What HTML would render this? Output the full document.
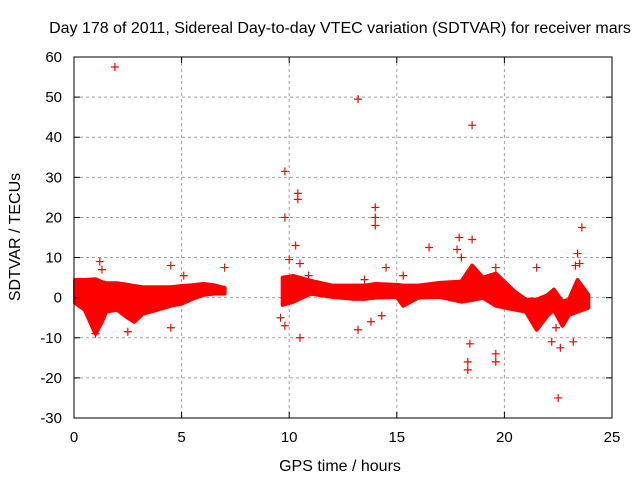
<!DOCTYPE html>
<html><head><meta charset="utf-8"><style>
body{margin:0;background:#fff}
svg text{font-family:"Liberation Sans",sans-serif;font-size:15px;fill:#000}
svg text.big{font-size:16px}
</style></head><body>
<svg id="c" width="640" height="480" xmlns="http://www.w3.org/2000/svg">
<text class="big" x="340" y="33" text-anchor="middle">Day 178 of 2011, Sidereal Day-to-day VTEC variation (SDTVAR) for receiver mars</text>
<text class="big" x="340" y="471" text-anchor="middle">GPS time / hours</text>
<text class="big" transform="translate(20,237) rotate(-90)" text-anchor="middle">SDTVAR / TECUs</text>
<g id="grid"></g><g id="data"></g><g id="axes"></g>
</svg>
<script>
const xTicks=[0,5,10,15,20,25];
const yTicks=[-30,-20,-10,0,10,20,30,40,50,60];
// band 1 envelope: hour, upper, lower
const band1X=[0.05,0.5,1.0,1.3,1.5,2.0,2.5,2.8,3.2,4.0,4.5,5.0,5.5,6.0,6.5,7.0];
const band1Hi=[4.4,4.4,4.6,3.9,3.6,3.6,3.2,2.9,2.6,2.6,2.6,2.9,3.1,3.4,3.1,2.4];
const band1Lo=[-1.3,-3,-9,-6,-3.5,-3,-5,-6,-4,-2.8,-2,-1.5,-0.3,0.7,1,1];
const band2X=[9.7,10.2,11,12,13,13.5,14,15,15.3,16,17,18,18.5,19,19.6,20.5,21,21.5,22,22.3,22.7,23,23.4,23.9];
const band2Hi=[5,5.4,4.2,3,3,3,3.4,3.2,3,3,3.7,4,8,5,6,1.4,-0.5,-0.5,0.6,2,-1,-0.5,4.4,0.7];
const band2Lo=[-1.8,-1,1,0.2,-0.3,-0.3,0,0.2,-2,0,0.2,-1,-0.6,0,-2,-3,-3.5,-8,-4.5,-3,-7,-4.3,-3.5,-2.5];
const outX=[1.9,13.2,18.5,9.8,10.4,10.4,9.8,14,14,14,23.6,18.5,10.3,17.9,17.8,16.5,1.2,1.3,4.5,5.1,7,10,10.5,10.9,13.5,14.5,19.6,21.5,23.3,23.4,23.5,9.6,9.8,10.5,13.2,18.4,18.3,18.3,19.6,19.6,22.2,22.4,22.6,23.2,22.5,14.3,4.5,2.5,1,15.3,18,13.8];
const outY=[57.5,49.5,43,31.5,26,24.5,20,22.5,20,18,17.5,14.5,13,15,12,12.5,9,7,8,5.5,7.5,9.5,8.5,5.5,4.5,7.5,7.5,7.5,8,11,8.5,-5,-7,-10,-8,-11.5,-16,-18,-14,-16,-11,-7.5,-12.5,-11,-25,-4.5,-7.5,-8.5,-9,5.5,10,-6];
const L=74,R=612,T=57,B=418;
const sx=v=>L+(v-0)/25*(R-L), sy=v=>B-(v+30)/90*(B-T);
const NS='http://www.w3.org/2000/svg';
function mk(t,a,p){const e=document.createElementNS(NS,t);for(const k in a)e.setAttribute(k,a[k]);document.getElementById(p).appendChild(e);return e;}
xTicks.forEach(v=>{
 if(v>0&&v<25){const g=mk('line',{x1:sx(v),x2:sx(v),y1:T,y2:B,stroke:'#a0a0a0','stroke-dasharray':'3,3'},'grid');}
 const t=mk('text',{x:sx(v),y:B+24,'text-anchor':'middle'},'axes');t.textContent=v;
 
 mk('line',{x1:sx(v),x2:sx(v),y1:B,y2:B-6,stroke:'#000'},'axes');
 mk('line',{x1:sx(v),x2:sx(v),y1:T,y2:T+6,stroke:'#000'},'axes');
});
yTicks.forEach(v=>{
 if(v>-30&&v<60){const g=mk('line',{x1:L,x2:R,y1:sy(v),y2:sy(v),stroke:'#a0a0a0','stroke-dasharray':'3,3'},'grid');}
 const t=mk('text',{x:L-12,y:sy(v)+5,'text-anchor':'end'},'axes');t.textContent=v;
 
 mk('line',{x1:L,x2:L+6,y1:sy(v),y2:sy(v),stroke:'#000'},'axes');
 mk('line',{x1:R,x2:R-6,y1:sy(v),y2:sy(v),stroke:'#000'},'axes');
});
const fr=mk('rect',{x:L,y:T,width:R-L,height:B-T,fill:'none',stroke:'#000'},'axes');

function band(X,H,Lo,name){
 let pts=X.map((x,i)=>sx(x)+','+sy(H[i]));
 for(let i=X.length-1;i>=0;i--)pts.push(sx(X[i])+','+sy(Lo[i]));
 const p=mk('polygon',{points:pts.join(' '),fill:'#ff0000',stroke:'#ff0000','stroke-width':4,'stroke-linejoin':'round'},'data');
 
}
band(band1X,band1Hi,band1Lo,'sdtvar-band-1');
band(band2X,band2Hi,band2Lo,'sdtvar-band-2');
outX.forEach((x,i)=>{
 const cx=sx(x),cy=sy(outY[i]);
 const p=mk('path',{d:`M${cx-4},${cy}h8M${cx},${cy-4}v8`,stroke:'#ff0000','stroke-width':1.2},'data');
 
});
</script>
</body></html>
